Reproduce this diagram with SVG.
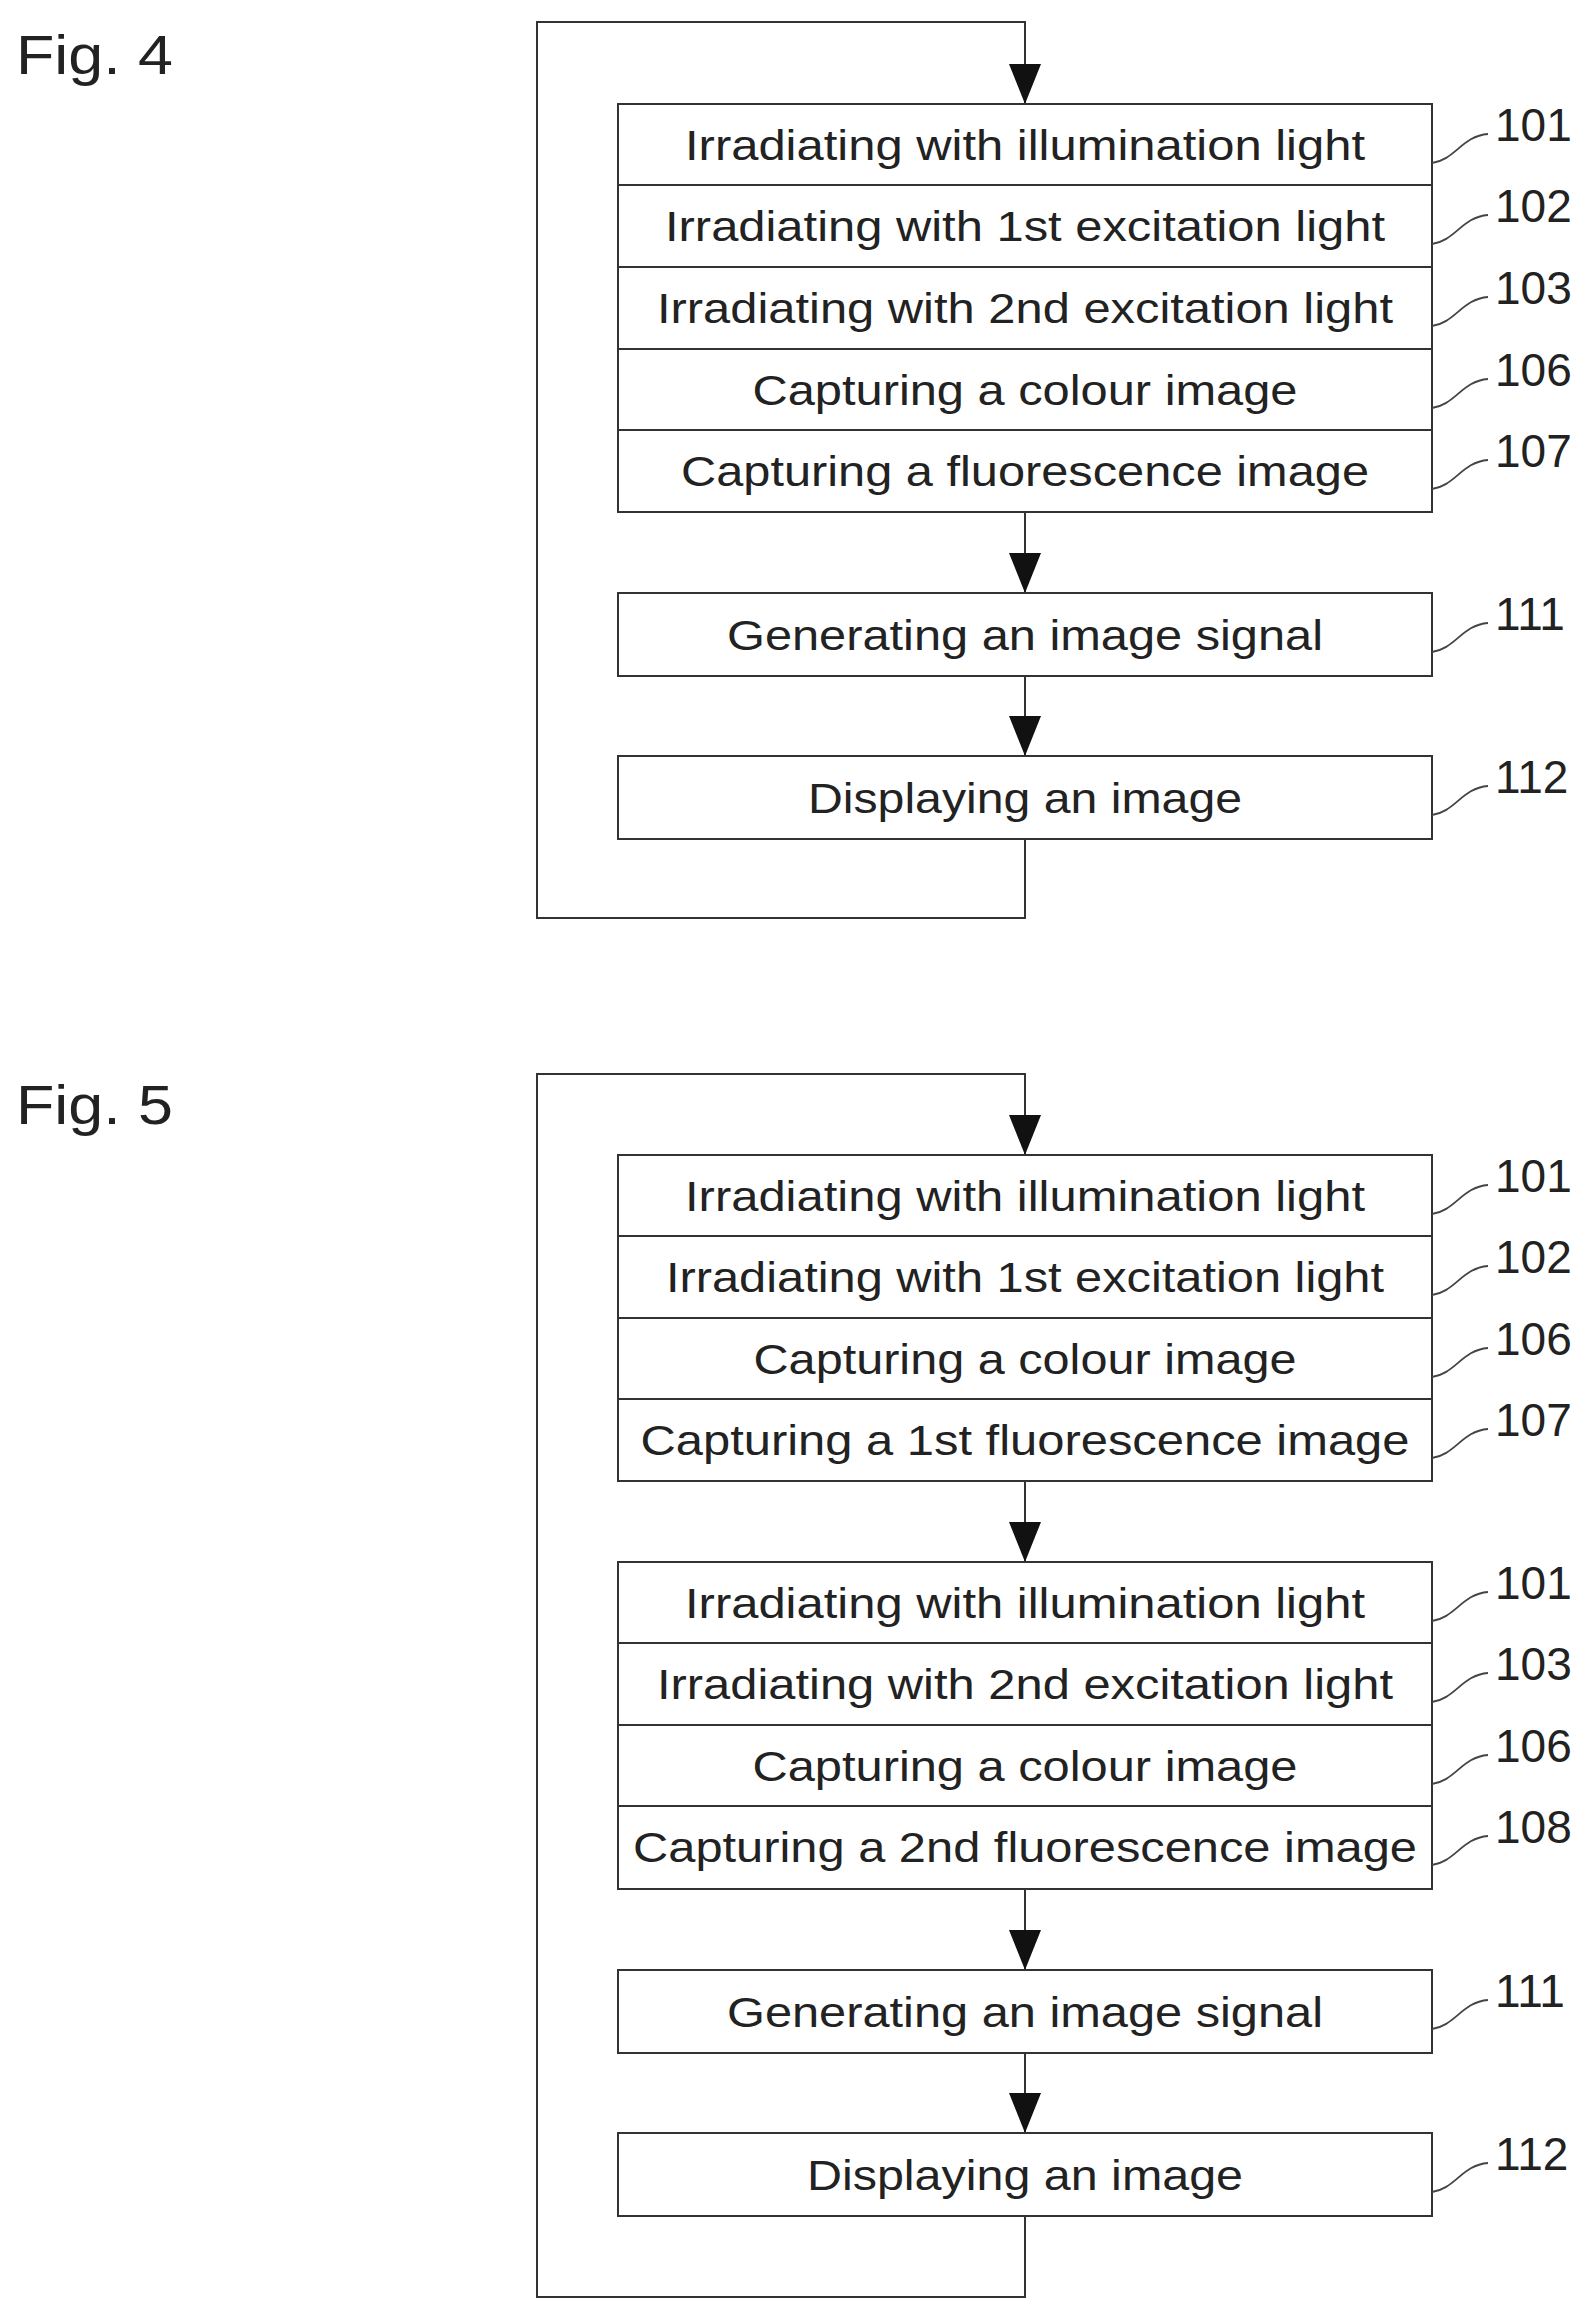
<svg xmlns="http://www.w3.org/2000/svg" width="1593" height="2318" viewBox="0 0 1593 2318">
<style>
.b{fill:#fff;stroke:#333;stroke-width:2}
.t{font-family:"Liberation Sans",Arial,sans-serif;font-size:43px;fill:#222;text-anchor:middle}
.n{font-family:"Liberation Sans",Arial,sans-serif;font-size:46px;fill:#222}
.f{font-family:"Liberation Sans",Arial,sans-serif;font-size:56px;fill:#222}
.c{fill:none;stroke:#333;stroke-width:2}
.l{fill:none;stroke:#444;stroke-width:1.8}
</style>
<defs><marker id="ah" markerWidth="40" markerHeight="32" refX="40" refY="16" orient="auto" markerUnits="userSpaceOnUse" viewBox="0 0 40 32"><path d="M0,0 L40,16 L0,32Z" fill="#111"/></marker></defs>
<rect width="1593" height="2318" fill="#fff"/>
<text class="f" x="16" y="74" textLength="157" lengthAdjust="spacingAndGlyphs">Fig. 4</text>
<text class="f" x="16" y="1124" textLength="157" lengthAdjust="spacingAndGlyphs">Fig. 5</text>
<g id="connectors">
<path class="c" d="M1025,839 V918 H537 V22 H1025 V104" marker-end="url(#ah)"/>
<path class="c" d="M1025,512 V593" marker-end="url(#ah)"/>
<path class="c" d="M1025,676 V756" marker-end="url(#ah)"/>
<path class="c" d="M1025,2216 V2297 H537 V1074 H1025 V1155" marker-end="url(#ah)"/>
<path class="c" d="M1025,1481 V1562" marker-end="url(#ah)"/>
<path class="c" d="M1025,1889 V1970" marker-end="url(#ah)"/>
<path class="c" d="M1025,2053 V2133" marker-end="url(#ah)"/>
</g>
<g id="fig4-group1">
<rect class="b" x="618" y="104" width="814" height="81"/><text class="t" x="1025" y="160" textLength="680" lengthAdjust="spacingAndGlyphs">Irradiating with illumination light</text>
<rect class="b" x="618" y="185" width="814" height="82"/><text class="t" x="1025" y="241" textLength="720" lengthAdjust="spacingAndGlyphs">Irradiating with 1st excitation light</text>
<rect class="b" x="618" y="267" width="814" height="82"/><text class="t" x="1025" y="323" textLength="736" lengthAdjust="spacingAndGlyphs">Irradiating with 2nd excitation light</text>
<rect class="b" x="618" y="349" width="814" height="81"/><text class="t" x="1025" y="405" textLength="545" lengthAdjust="spacingAndGlyphs">Capturing a colour image</text>
<rect class="b" x="618" y="430" width="814" height="82"/><text class="t" x="1025" y="486" textLength="688" lengthAdjust="spacingAndGlyphs">Capturing a fluorescence image</text>
<text class="n" x="1495" y="141">101</text><path class="l" d="M1432,163 C1455,160 1462,136 1488,134"/>
<text class="n" x="1495" y="222">102</text><path class="l" d="M1432,244 C1455,241 1462,217 1488,215"/>
<text class="n" x="1495" y="304">103</text><path class="l" d="M1432,326 C1455,323 1462,299 1488,297"/>
<text class="n" x="1495" y="386">106</text><path class="l" d="M1432,408 C1455,405 1462,381 1488,379"/>
<text class="n" x="1495" y="467">107</text><path class="l" d="M1432,489 C1455,486 1462,462 1488,460"/>
</g>
<g id="fig4-111"><rect class="b" x="618" y="593" width="814" height="83"/><text class="t" x="1025" y="650" textLength="596" lengthAdjust="spacingAndGlyphs">Generating an image signal</text>
<text class="n" x="1495" y="630">111</text><path class="l" d="M1432,652 C1455,649 1462,625 1488,623"/></g>
<g id="fig4-112"><rect class="b" x="618" y="756" width="814" height="83"/><text class="t" x="1025" y="813" textLength="434" lengthAdjust="spacingAndGlyphs">Displaying an image</text>
<text class="n" x="1495" y="793">112</text><path class="l" d="M1432,815 C1455,812 1462,788 1488,786"/></g>
<g id="fig5-group1">
<rect class="b" x="618" y="1155" width="814" height="81"/><text class="t" x="1025" y="1211" textLength="680" lengthAdjust="spacingAndGlyphs">Irradiating with illumination light</text>
<rect class="b" x="618" y="1236" width="814" height="82"/><text class="t" x="1025" y="1292" textLength="718" lengthAdjust="spacingAndGlyphs">Irradiating with 1st excitation light</text>
<rect class="b" x="618" y="1318" width="814" height="81"/><text class="t" x="1025" y="1374" textLength="543" lengthAdjust="spacingAndGlyphs">Capturing a colour image</text>
<rect class="b" x="618" y="1399" width="814" height="82"/><text class="t" x="1025" y="1455" textLength="769" lengthAdjust="spacingAndGlyphs">Capturing a 1st fluorescence image</text>
<text class="n" x="1495" y="1192">101</text><path class="l" d="M1432,1214 C1455,1211 1462,1187 1488,1185"/>
<text class="n" x="1495" y="1273">102</text><path class="l" d="M1432,1295 C1455,1292 1462,1268 1488,1266"/>
<text class="n" x="1495" y="1355">106</text><path class="l" d="M1432,1377 C1455,1374 1462,1350 1488,1348"/>
<text class="n" x="1495" y="1436">107</text><path class="l" d="M1432,1458 C1455,1455 1462,1431 1488,1429"/>
</g>
<g id="fig5-group2">
<rect class="b" x="618" y="1562" width="814" height="81"/><text class="t" x="1025" y="1618" textLength="680" lengthAdjust="spacingAndGlyphs">Irradiating with illumination light</text>
<rect class="b" x="618" y="1643" width="814" height="82"/><text class="t" x="1025" y="1699" textLength="736" lengthAdjust="spacingAndGlyphs">Irradiating with 2nd excitation light</text>
<rect class="b" x="618" y="1725" width="814" height="81"/><text class="t" x="1025" y="1781" textLength="545" lengthAdjust="spacingAndGlyphs">Capturing a colour image</text>
<rect class="b" x="618" y="1806" width="814" height="83"/><text class="t" x="1025" y="1862" textLength="784" lengthAdjust="spacingAndGlyphs">Capturing a 2nd fluorescence image</text>
<text class="n" x="1495" y="1599">101</text><path class="l" d="M1432,1621 C1455,1618 1462,1594 1488,1592"/>
<text class="n" x="1495" y="1680">103</text><path class="l" d="M1432,1702 C1455,1699 1462,1675 1488,1673"/>
<text class="n" x="1495" y="1762">106</text><path class="l" d="M1432,1784 C1455,1781 1462,1757 1488,1755"/>
<text class="n" x="1495" y="1843">108</text><path class="l" d="M1432,1865 C1455,1862 1462,1838 1488,1836"/>
</g>
<g id="fig5-111"><rect class="b" x="618" y="1970" width="814" height="83"/><text class="t" x="1025" y="2027" textLength="596" lengthAdjust="spacingAndGlyphs">Generating an image signal</text>
<text class="n" x="1495" y="2007">111</text><path class="l" d="M1432,2029 C1455,2026 1462,2002 1488,2000"/></g>
<g id="fig5-112"><rect class="b" x="618" y="2133" width="814" height="83"/><text class="t" x="1025" y="2190" textLength="436" lengthAdjust="spacingAndGlyphs">Displaying an image</text>
<text class="n" x="1495" y="2170">112</text><path class="l" d="M1432,2192 C1455,2189 1462,2165 1488,2163"/></g>
</svg>
